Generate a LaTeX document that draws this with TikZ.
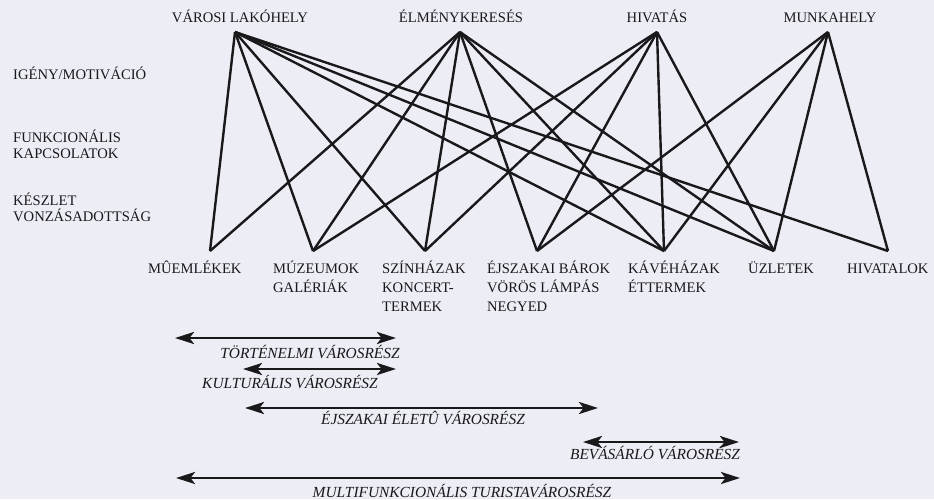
\documentclass[tikz,border=0pt]{standalone}
\usepackage{fontspec}
\setmainfont{Liberation Serif}
\usetikzlibrary{arrows.meta}
\definecolor{bgc}{RGB}{237,237,245}
\definecolor{ink}{RGB}{25,25,28}
\begin{document}
\begin{tikzpicture}[x=1pt,y=-1pt,
  lbl/.style={font=\fontsize{14.6}{19}\selectfont, text=ink, inner sep=0pt},
  toplbl/.style={lbl, anchor=base},
  sidelbl/.style={lbl, align=left, anchor=base west, font=\fontsize{14.6}{16}\selectfont},
  botlbl/.style={lbl, align=left, anchor=base west},
  link/.style={draw=ink, line width=2.4pt},
  span/.style={draw=ink, line width=2.8pt, {Stealth[length=19pt,width=12pt,inset=4.5pt]}-{Stealth[length=19pt,width=12pt,inset=4.5pt]}},
  spanlbl/.style={font=\fontsize{15.4}{18}\selectfont\itshape, text=ink, inner sep=0pt, anchor=base}]
\fill[bgc] (0,0) rectangle (934,499);
\useasboundingbox (0,0) rectangle (934,499);

% top labels
\node[toplbl] (lv) at (240,22) {VÁROSI LAKÓHELY};
\node[toplbl] (le) at (461,22) {ÉLMÉNYKERESÉS};
\node[toplbl] (lh) at (657,22) {HIVATÁS};
\node[toplbl] (lm) at (830,22) {MUNKAHELY};

% side labels (base = baseline of last line)
\node[sidelbl] (s1) at (13,79) {IGÉNY/MOTIVÁCIÓ};
\node[sidelbl] (s2) at (13,158) {FUNKCIONÁLIS\\KAPCSOLATOK};
\node[sidelbl] (s3) at (13,221) {KÉSZLET\\VONZÁSADOTTSÁG};

% apexes
\coordinate (t1) at (235,32);
\coordinate (t2) at (460,32);
\coordinate (t3) at (657,32);
\coordinate (t4) at (828,32);
% bottoms
\coordinate (b1) at (210,251);
\coordinate (b2) at (313,251);
\coordinate (b3) at (425,251);
\coordinate (b4) at (537,251);
\coordinate (b5) at (664,251);
\coordinate (b6) at (774,251);
\coordinate (b7) at (888,251);

% bottom labels (base = baseline of last line)
\node[botlbl] (n1) at (148,273) {MÛEMLÉKEK};
\node[botlbl] (n2) at (273,292) {MÚZEUMOK\\GALÉRIÁK};
\node[botlbl] (n3) at (382,311) {SZÍNHÁZAK\\KONCERT-\\TERMEK};
\node[botlbl] (n4) at (487,311) {ÉJSZAKAI BÁROK\\VÖRÖS LÁMPÁS\\NEGYED};
\node[botlbl] (n5) at (628,292) {KÁVÉHÁZAK\\ÉTTERMEK};
\node[botlbl] (n6) at (748,273) {ÜZLETEK};
\node[botlbl] (n7) at (847,273) {HIVATALOK};

% links
\foreach \b in {b1,b2,b3,b5,b6,b7} \draw[link] (t1) -- (\b);
\foreach \b in {b1,b2,b3,b4,b5,b6} \draw[link] (t2) -- (\b);
\foreach \b in {b2,b3,b4,b5,b6} \draw[link] (t3) -- (\b);
\foreach \b in {b4,b5,b6,b7} \draw[link] (t4) -- (\b);

% spans
\coordinate (a1l) at (175,338); \coordinate (a1r) at (396,338);
\coordinate (a2l) at (243,369); \coordinate (a2r) at (396,369);
\coordinate (a3l) at (245,408); \coordinate (a3r) at (598,408);
\coordinate (a4l) at (583,442); \coordinate (a4r) at (739,442);
\coordinate (a5l) at (176,478); \coordinate (a5r) at (740,478);
\draw[span] (a1l) -- (a1r);
\draw[span] (a2l) -- (a2r);
\draw[span] (a3l) -- (a3r);
\draw[span] (a4l) -- (a4r);
\draw[span] (a5l) -- (a5r);
\node[spanlbl] (m1) at (310,358) {TÖRTÉNELMI VÁROSRÉSZ};
\node[spanlbl] (m2) at (290,388) {KULTURÁLIS VÁROSRÉSZ};
\node[spanlbl] (m3) at (423,424) {ÉJSZAKAI ÉLETÛ VÁROSRÉSZ};
\node[spanlbl] (m4) at (655,459) {BEVÁSÁRLÓ VÁROSRÉSZ};
\node[spanlbl] (m5) at (462,497) {MULTIFUNKCIONÁLIS TURISTAVÁROSRÉSZ};
\end{tikzpicture}
\end{document}
